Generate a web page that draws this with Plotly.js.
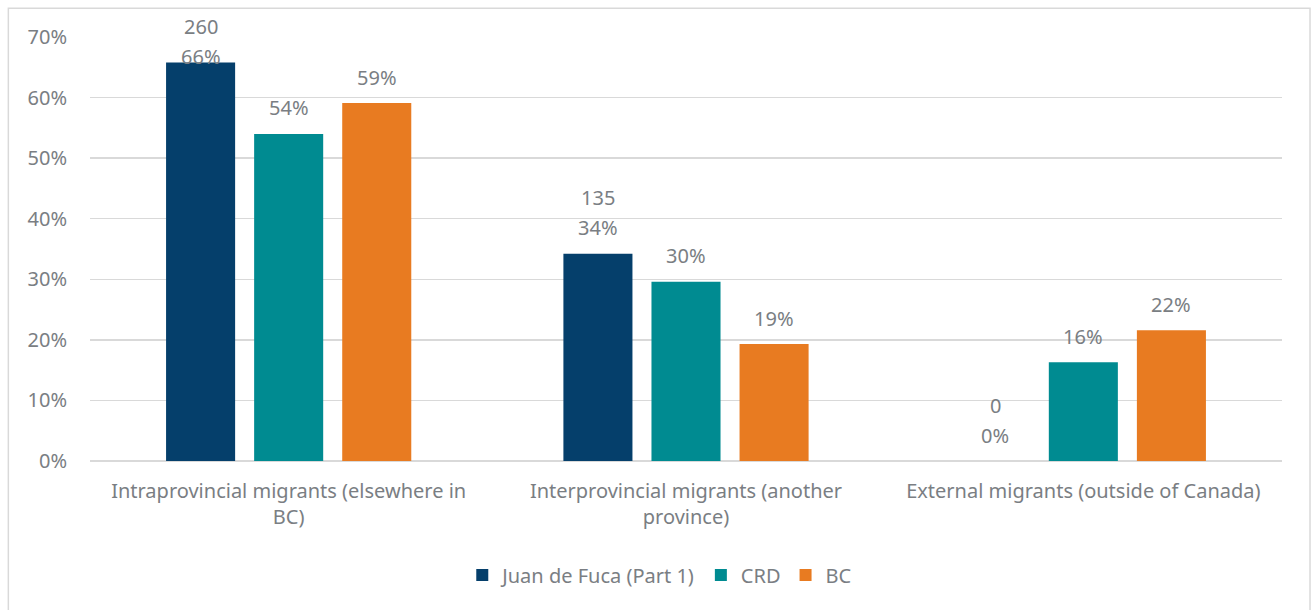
<!DOCTYPE html>
<html>
<head>
<meta charset="utf-8">
<script src="https://cdn.plot.ly/plotly-3.0.1.min.js"></script>
<style>
  html, body { margin: 0; padding: 0; background: #ffffff; }
  #chart { width: 1314px; height: 610px; }
</style>
</head>
<body>
<div id="chart"></div>
<script>
// Where new residents came from, by area
const categories = [
  'Intraprovincial migrants (elsewhere in<br>BC)',
  'Interprovincial migrants (another<br>province)',
  'External migrants (outside of Canada)'
];
const seriesNames = ['Juan de Fuca (Part 1)', 'CRD', 'BC'];
const juanCounts = [260, 135, 0];
const juanPct = [65.8, 34.2, 0];
const crdPct = [54.0, 29.6, 16.3];
const bcPct = [59.1, 19.3, 21.6];
const yTicks = [0, 10, 20, 30, 40, 50, 60, 70];

const colors = ['#053F6B', '#008B91', '#E87B21'];
const textColor = '#7A7E83';
const fontFamily = '"Noto Sans", "Open Sans", sans-serif';
const fontSize = 20;

const W = 1314, H = 610;
const margin = { l: 90, r: 32, t: 37, b: 149 };
const bargap = 0.335;
const yMax = 70;

const pctLabel = v => Math.round(v) + '%';

// Each label is a list of lines, bottom line last
const series = [
  { name: seriesNames[0], y: juanPct, lines: juanPct.map((v, i) => [String(juanCounts[i]), pctLabel(v)]) },
  { name: seriesNames[1], y: crdPct, lines: crdPct.map(v => [pctLabel(v)]) },
  { name: seriesNames[2], y: bcPct, lines: bcPct.map(v => [pctLabel(v)]) }
];

const traces = series.map((s, i) => ({
  type: 'bar',
  name: s.name,
  x: categories,
  y: s.y,
  marker: { color: colors[i] },
  hoverinfo: 'skip'
}));

// Value labels above each bar; a label that would leave the frame is pushed down
const plotW = W - margin.l - margin.r;
const plotH = H - margin.t - margin.b;
const slotPx = (plotW / categories.length) * (1 - bargap) / series.length;
const labelGap = 26;   // bar top to centre of the lowest line
const lineGap = 30;    // centre to centre of stacked lines
const minCentre = 27;  // highest allowed line centre, px from the top
const annotations = [];
series.forEach((s, i) => {
  s.y.forEach((v, j) => {
    const lines = s.lines[j];
    const n = lines.length;
    const topPx = margin.t + plotH * (1 - v / yMax);
    let base = labelGap;
    const highest = topPx - base - (n - 1) * lineGap;
    if (highest < minCentre) base -= (minCentre - highest);
    lines.forEach((line, k) => {
      const fromBottom = n - 1 - k;
      annotations.push({
        x: categories[j], y: v, xref: 'x', yref: 'y',
        text: line, showarrow: false,
        xanchor: 'center', yanchor: 'middle',
        xshift: (i - (series.length - 1) / 2) * slotPx,
        yshift: base + fromBottom * lineGap,
        font: { family: fontFamily, size: fontSize, color: textColor }
      });
    });
  });
});

const layout = {
  width: W, height: H,
  margin: margin,
  paper_bgcolor: '#ffffff', plot_bgcolor: '#ffffff',
  font: { family: fontFamily, size: fontSize, color: textColor },
  barmode: 'group',
  bargap: bargap,
  bargroupgap: 0.216,
  showlegend: true,
  legend: {
    orientation: 'h', x: 0.478, xanchor: 'center', y: -0.269, yanchor: 'middle',
    font: { family: fontFamily, size: fontSize, color: textColor },
    traceorder: 'normal'
  },
  xaxis: {
    type: 'category', showgrid: false, zeroline: false,
    showline: false, ticks: '', ticklabelstandoff: 16,
    tickfont: { family: fontFamily, size: fontSize, color: textColor }
  },
  yaxis: {
    range: [0, yMax], tickvals: yTicks, ticktext: yTicks.map(v => v + '%'),
    showgrid: true, gridcolor: '#D9D9D9', gridwidth: 1.3,
    zeroline: true, zerolinecolor: '#D9D9D9', zerolinewidth: 1.3,
    showline: false, ticks: '', ticklabelstandoff: 22,
    tickfont: { family: fontFamily, size: fontSize, color: textColor }
  },
  annotations: annotations,
  shapes: [{
    type: 'rect', xref: 'paper', yref: 'paper',
    x0: -0.0685, x1: 1.0235, y0: -0.37, y1: 1.068,
    line: { color: '#D9D9D9', width: 1.5 }, fillcolor: 'rgba(0,0,0,0)', layer: 'below'
  }]
};

Plotly.newPlot('chart', traces, layout, { staticPlot: true, displayModeBar: false });
</script>
</body>
</html>
